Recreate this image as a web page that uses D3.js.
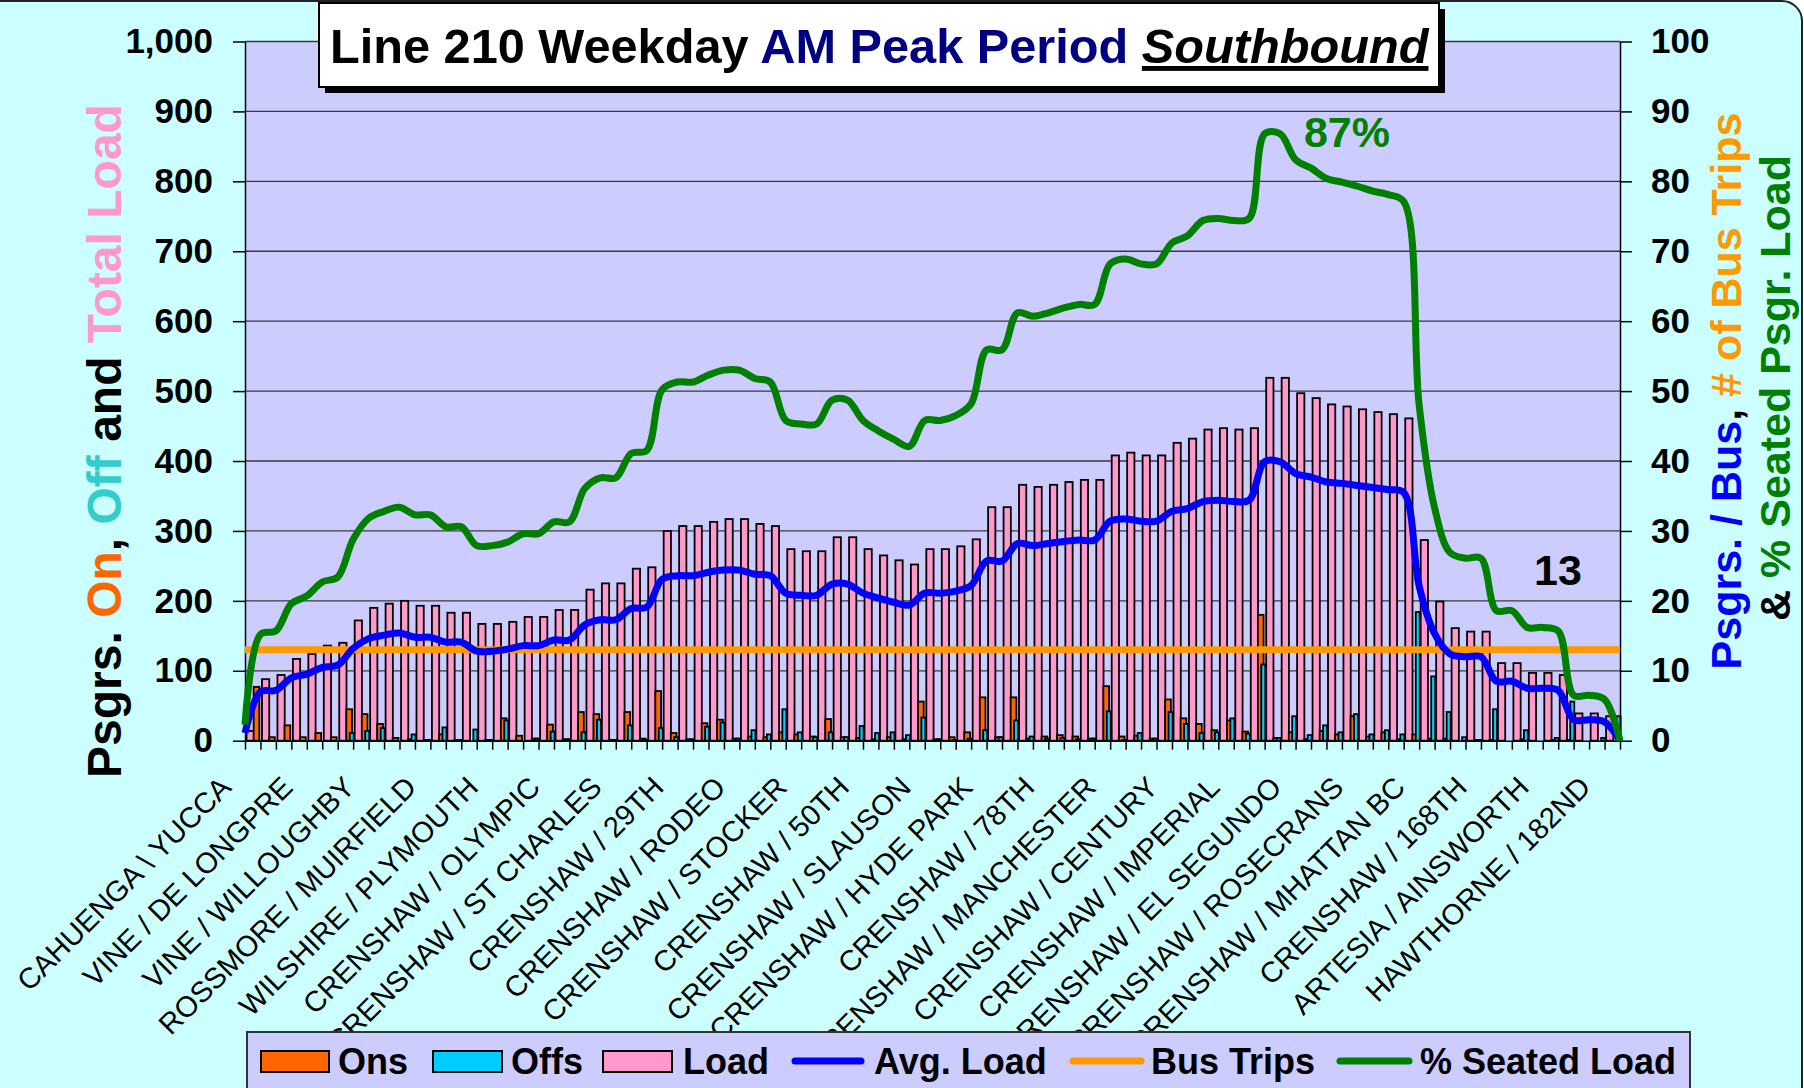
<!DOCTYPE html>
<head>
  <meta charset="utf-8" />
  <script src="https://d3js.org/d3.v7.min.js"></script>
  <style>
    body {
      margin: 0;
      background: #fff;
    }
    svg {
      display: block;
      font-family: "Liberation Sans", Arial, sans-serif;
    }
  </style>
</head>

<body>
  <svg width="1804" height="1088"></svg>

  <script>
    // stop names shown under every 4th stop
    var tickLabels = [
      "CAHUENGA \\ YUCCA", "VINE / DE LONGPRE", "VINE / WILLOUGHBY",
      "ROSSMORE / MUIRFIELD", "WILSHIRE / PLYMOUTH", "CRENSHAW / OLYMPIC",
      "CRENSHAW / ST CHARLES", "CRENSHAW / 29TH", "CRENSHAW / RODEO",
      "CRENSHAW / STOCKER", "CRENSHAW / 50TH", "CRENSHAW / SLAUSON",
      "CRENSHAW / HYDE PARK", "CRENSHAW / 78TH", "CRENSHAW / MANCHESTER",
      "CRENSHAW / CENTURY", "CRENSHAW / IMPERIAL", "CRENSHAW / EL SEGUNDO",
      "CRENSHAW / ROSECRANS", "CRENSHAW / MHATTAN BC", "CRENSHAW / 168TH",
      "ARTESIA / AINSWORTH", "HAWTHORNE / 182ND"
    ];
    var labelEvery = 4;

    // total load arriving at each stop (89 stops)
    var load = [
      14, 88, 94, 117, 124, 136, 140, 172, 190, 196,
      200, 193, 193, 183, 183, 167, 167, 170, 177, 177,
      187, 187, 216, 225, 225, 246, 248, 300, 307, 307,
      313, 317, 317, 310, 307, 274, 271, 271, 291, 291,
      274, 265, 258, 252, 274, 274, 278, 288, 334, 334,
      366, 363, 366, 370, 373, 373, 408, 412, 408, 408,
      426, 432, 445, 447, 445, 447, 519, 519, 497, 490,
      481, 478, 474, 470, 467, 461, 287, 199, 161, 156,
      156, 111, 111, 97, 97, 94, 39, 39, 35
    ];

    var ons = [
      77, 5, 22, 5, 11, 5, 45, 38, 24, 4,
      2, 1, 9, 1, 0, 1, 32, 7, 3, 23,
      2, 41, 38, 1, 41, 3, 71, 11, 2, 25,
      30, 3, 6, 5, 12, 9, 6, 31, 5, 4,
      2, 5, 2, 56, 2, 5, 12, 62, 5, 62,
      3, 6, 8, 6, 3, 78, 6, 7, 3, 59,
      32, 24, 15, 29, 13, 180, 4, 12, 2, 14,
      9, 35, 6, 12, 2, 9, 3, 3, 0, 1,
      1, 0, 2, 0, 1, 1, 0, 0, 0
    ];

    var offs = [
      0, 0, 0, 0, 0, 0, 11, 14, 18, 0,
      9, 1, 19, 1, 16, 1, 29, 0, 3, 13,
      2, 12, 30, 1, 22, 1, 18, 5, 2, 20,
      26, 3, 15, 9, 45, 12, 5, 12, 5, 21,
      11, 12, 8, 33, 2, 1, 3, 15, 5, 29,
      6, 3, 4, 2, 3, 42, 1, 11, 3, 41,
      24, 11, 12, 32, 10, 109, 4, 35, 8, 22,
      12, 38, 9, 15, 9, 184, 92, 41, 5, 1,
      45, 0, 15, 0, 4, 56, 0, 4, 35
    ];

    // line series sit on the stop boundaries (90 points, last one = end of line)
    var avgLoad = [
      1.1, 7.0, 7.2, 9.0, 9.5, 10.5, 10.8, 13.2, 14.6, 15.1,
      15.4, 14.8, 14.8, 14.1, 14.1, 12.8, 12.8, 13.1, 13.6, 13.6,
      14.4, 14.4, 16.6, 17.3, 17.3, 18.9, 19.1, 23.1, 23.6, 23.6,
      24.1, 24.4, 24.4, 23.8, 23.6, 21.1, 20.8, 20.8, 22.4, 22.4,
      21.1, 20.4, 19.8, 19.4, 21.1, 21.1, 21.4, 22.2, 25.7, 25.7,
      28.2, 27.9, 28.2, 28.5, 28.7, 28.7, 31.4, 31.7, 31.4, 31.4,
      32.8, 33.2, 34.2, 34.4, 34.2, 34.4, 39.9, 39.9, 38.2, 37.7,
      37.0, 36.8, 36.5, 36.2, 35.9, 35.5, 22.1, 15.3, 12.4, 12.0,
      12.0, 8.5, 8.5, 7.5, 7.5, 7.2, 3.0, 3.0, 2.7, 0
    ];

    var seatedPct = [
      2.3, 15.2, 15.7, 19.6, 20.7, 22.7, 23.4, 28.8, 31.8, 32.8,
      33.4, 32.3, 32.3, 30.6, 30.6, 27.9, 27.9, 28.4, 29.6, 29.6,
      31.3, 31.3, 36.1, 37.6, 37.6, 41.1, 41.5, 50.2, 51.3, 51.3,
      52.3, 53.0, 53.0, 51.8, 51.3, 45.8, 45.3, 45.3, 48.7, 48.7,
      45.8, 44.3, 43.1, 42.1, 45.8, 45.8, 46.5, 48.2, 55.9, 55.9,
      61.2, 60.7, 61.2, 61.9, 62.4, 62.4, 68.2, 68.9, 68.2, 68.2,
      71.2, 72.2, 74.4, 74.7, 74.4, 74.7, 86.8, 86.8, 83.1, 81.9,
      80.4, 79.9, 79.3, 78.6, 78.1, 77.1, 48.0, 33.3, 26.9, 26.1,
      26.1, 18.6, 18.6, 16.2, 16.2, 15.7, 6.5, 6.5, 5.9, 0
    ];

    var busTrips = 13;
    var peakSeated = "87%";

    var plot = { left: 245, right: 1620, top: 41.5, bottom: 740.7 };
    var font = '"Liberation Sans", Arial, sans-serif';

    var svg = d3.select("svg");

    // chart area
    svg
      .append("rect")
      .attr("x", -20)
      .attr("y", 1)
      .attr("width", 1822)
      .attr("height", 1120)
      .attr("rx", 20)
      .attr("fill", "#ccffff")
      .attr("stroke", "#222")
      .attr("stroke-width", 2);

    svg
      .append("rect")
      .attr("x", plot.left)
      .attr("y", plot.top)
      .attr("width", plot.right - plot.left)
      .attr("height", plot.bottom - plot.top)
      .attr("fill", "#ccccff");

    var x = d3
      .scaleBand()
      .domain(d3.range(load.length))
      .range([plot.left, plot.right]);
    var bw = x.bandwidth();
    // boundaries between stops, used by the lines and tick marks
    var xb = d3
      .scaleLinear()
      .domain([0, load.length])
      .range([plot.left, plot.right]);
    var yL = d3.scaleLinear().domain([0, 1000]).range([plot.bottom, plot.top]);
    var yR = d3.scaleLinear().domain([0, 100]).range([plot.bottom, plot.top]);

    // gridlines
    svg
      .append("g")
      .selectAll("line")
      .data(yL.ticks(10).filter(function (d) { return d > 0; }))
      .enter()
      .append("line")
      .attr("x1", plot.left)
      .attr("x2", plot.right)
      .attr("y1", function (d) { return yL(d); })
      .attr("y2", function (d) { return yL(d); })
      .attr("stroke", "#3a3a3a")
      .attr("stroke-width", 1.3);

    function bars(data, cls, fill, offset, width) {
      svg
        .append("g")
        .attr("class", cls)
        .selectAll("rect")
        .data(data)
        .enter()
        .append("rect")
        .attr("x", function (d, i) { return x(i) + bw * offset; })
        .attr("width", bw * width)
        .attr("y", function (d) { return yL(d); })
        .attr("height", function (d) { return yL(0) - yL(d); })
        .attr("fill", fill)
        .attr("stroke", "#000")
        .attr("stroke-width", 1.8);
    }
    bars(load, "load", "#ff99cc", 0.1, 0.47);
    bars(ons, "ons", "#ff6600", 0.56, 0.37);
    bars(offs, "offs", "#00ccff", 0.78, 0.26);

    // axes
    var axisL = svg
      .append("g")
      .attr("transform", "translate(" + plot.left + ",0)")
      .call(
        d3.axisLeft(yL).ticks(10).tickFormat(d3.format(",")).tickSize(12).tickSizeOuter(0).tickPadding(20)
      );
    var axisR = svg
      .append("g")
      .attr("transform", "translate(" + plot.right + ",0)")
      .call(d3.axisRight(yR).ticks(10).tickSize(12).tickSizeOuter(0).tickPadding(19));
    var axisB = svg
      .append("g")
      .attr("transform", "translate(0," + plot.bottom + ")")
      .call(
        d3.axisBottom(xb).tickValues(d3.range(load.length + 1)).tickFormat("").tickSize(9).tickSizeOuter(0)
      );
    [axisL, axisR, axisB].forEach(function (a) {
      a.attr("font-family", font).attr("font-size", 35).attr("font-weight", "bold");
      a.selectAll("path, line").attr("stroke", "#000").attr("stroke-width", 1.5);
      a.selectAll("text").attr("fill", "#000");
    });

    // stop labels
    svg
      .append("g")
      .selectAll("text")
      .data(tickLabels)
      .enter()
      .append("text")
      .attr("transform", function (d, j) {
        var cx = x(j * labelEvery) + bw / 2;
        return "translate(" + (cx - 20) + ",789) rotate(-45)";
      })
      .attr("text-anchor", "end")
      .attr("font-size", 29)
      .attr("fill", "#000")
      .text(function (d) { return d; });

    // lines
    var line = d3
      .line()
      .x(function (d, i) { return xb(i); })
      .y(function (d) { return yR(d); })
      .curve(d3.curveCatmullRom.alpha(0.5));

    svg
      .append("line")
      .attr("x1", xb(0))
      .attr("x2", xb(load.length))
      .attr("y1", yR(busTrips))
      .attr("y2", yR(busTrips))
      .attr("stroke", "#ff9900")
      .attr("stroke-width", 7);

    svg
      .append("path")
      .datum(avgLoad)
      .attr("d", line)
      .attr("fill", "none")
      .attr("stroke", "#0000ff")
      .attr("stroke-width", 7)
      .attr("stroke-linejoin", "round");

    svg
      .append("path")
      .datum(seatedPct)
      .attr("d", line)
      .attr("fill", "none")
      .attr("stroke", "#008000")
      .attr("stroke-width", 7)
      .attr("stroke-linejoin", "round");

    svg
      .append("text")
      .attr("x", 1347)
      .attr("y", 147)
      .attr("text-anchor", "middle")
      .attr("font-size", 43)
      .attr("font-weight", "bold")
      .attr("fill", "#008000")
      .text(peakSeated);

    svg
      .append("text")
      .attr("x", 1558)
      .attr("y", 585)
      .attr("text-anchor", "middle")
      .attr("font-size", 43)
      .attr("font-weight", "bold")
      .attr("fill", "#000")
      .text(busTrips);

    // title box
    svg.append("rect").attr("x", 325).attr("y", 9).attr("width", 1120).attr("height", 84).attr("fill", "#000");
    svg
      .append("rect")
      .attr("x", 319)
      .attr("y", 3)
      .attr("width", 1120)
      .attr("height", 84)
      .attr("fill", "#fff")
      .attr("stroke", "#000")
      .attr("stroke-width", 2);
    var title = svg
      .append("text")
      .attr("x", 330)
      .attr("y", 63)
      .attr("font-size", 48.7)
      .attr("font-weight", "bold")
      .attr("fill", "#000");
    title.append("tspan").text("Line 210 Weekday ");
    title.append("tspan").attr("fill", "#000080").text("AM Peak Period");
    title.append("tspan").text(" ");
    title
      .append("tspan")
      .attr("font-style", "italic")
      .attr("text-decoration", "underline")
      .text("Southbound");

    // left axis title
    var yTitle = svg
      .append("text")
      .attr("transform", "translate(121,441) rotate(-90)")
      .attr("text-anchor", "middle")
      .attr("font-size", 48)
      .attr("font-weight", "bold")
      .attr("fill", "#000");
    yTitle.append("tspan").text("Psgrs. ");
    yTitle.append("tspan").attr("fill", "#ff6600").text("On");
    yTitle.append("tspan").text(", ");
    yTitle.append("tspan").attr("fill", "#33cccc").text("Off");
    yTitle.append("tspan").text(" and ");
    yTitle.append("tspan").attr("fill", "#ff99cc").text("Total Load");

    // right axis title, two lines
    var rTitle1 = svg
      .append("text")
      .attr("transform", "translate(1741,391) rotate(-90)")
      .attr("text-anchor", "middle")
      .attr("font-size", 43)
      .attr("font-weight", "bold")
      .attr("fill", "#000");
    rTitle1.append("tspan").attr("fill", "#0000ff").text("Psgrs. / Bus");
    rTitle1.append("tspan").text(", ");
    rTitle1.append("tspan").attr("fill", "#ff9900").text("# of Bus Trips");

    var rTitle2 = svg
      .append("text")
      .attr("transform", "translate(1790,388) rotate(-90)")
      .attr("text-anchor", "middle")
      .attr("font-size", 43)
      .attr("font-weight", "bold")
      .attr("fill", "#000");
    rTitle2.append("tspan").text("& ");
    rTitle2.append("tspan").attr("fill", "#008000").text("% Seated Psgr. Load");

    // legend
    var legend = svg.append("g").attr("font-size", 36).attr("font-weight", "bold");
    legend
      .append("rect")
      .attr("x", 247)
      .attr("y", 1032)
      .attr("width", 1443)
      .attr("height", 80)
      .attr("fill", "#ccccff")
      .attr("stroke", "#333")
      .attr("stroke-width", 2);

    var legendItems = [
      { name: "Ons", type: "box", color: "#ff6600", x0: 261, x1: 329, tx: 338 },
      { name: "Offs", type: "box", color: "#00ccff", x0: 433, x1: 502, tx: 511 },
      { name: "Load", type: "box", color: "#ff99cc", x0: 603, x1: 672, tx: 683 },
      { name: "Avg. Load", type: "line", color: "#0000ff", x0: 795, x1: 861, tx: 874 },
      { name: "Bus Trips", type: "line", color: "#ff9900", x0: 1073, x1: 1141, tx: 1151 },
      { name: "% Seated Load", type: "line", color: "#008000", x0: 1340, x1: 1409, tx: 1420 }
    ];
    legendItems.forEach(function (d) {
      if (d.type === "box") {
        legend
          .append("rect")
          .attr("x", d.x0)
          .attr("y", 1051)
          .attr("width", d.x1 - d.x0)
          .attr("height", 21)
          .attr("fill", d.color)
          .attr("stroke", "#000")
          .attr("stroke-width", 2);
      } else {
        legend
          .append("line")
          .attr("x1", d.x0)
          .attr("x2", d.x1)
          .attr("y1", 1061)
          .attr("y2", 1061)
          .attr("stroke", d.color)
          .attr("stroke-width", 7)
          .attr("stroke-linecap", "round");
      }
      legend.append("text").attr("x", d.tx).attr("y", 1074).attr("fill", "#000").text(d.name);
    });
  </script>
</body>
